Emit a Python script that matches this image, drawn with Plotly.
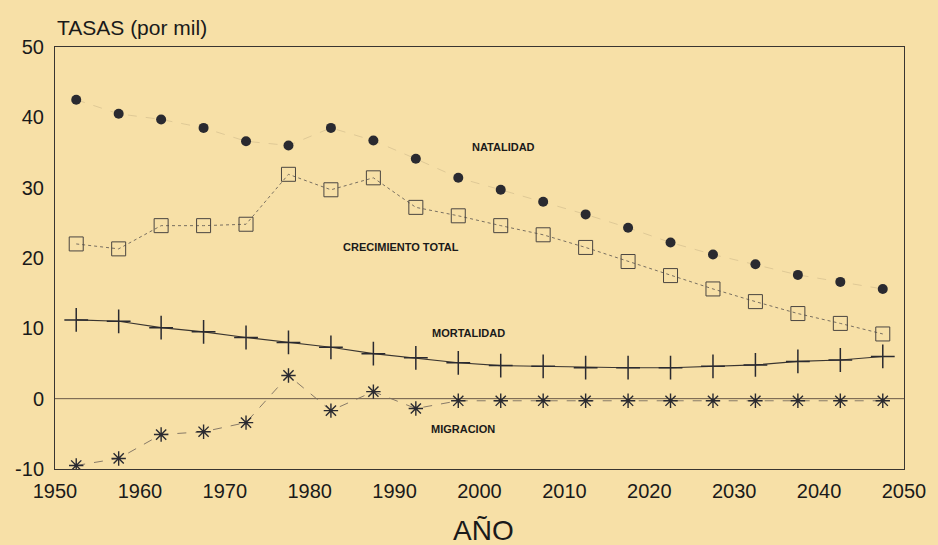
import plotly.graph_objects as go

years = [1952.5, 1957.5, 1962.5, 1967.5, 1972.5, 1977.5, 1982.5, 1987.5, 1992.5, 1997.5,
         2002.5, 2007.5, 2012.5, 2017.5, 2022.5, 2027.5, 2032.5, 2037.5, 2042.5, 2047.5]

natalidad = [42.5, 40.5, 39.7, 38.5, 36.6, 36.0, 38.5, 36.7, 34.1, 31.4,
             29.7, 28.0, 26.2, 24.3, 22.2, 20.5, 19.1, 17.6, 16.6, 15.6]
crecimiento = [22.0, 21.3, 24.6, 24.6, 24.8, 31.9, 29.7, 31.4, 27.2, 26.0,
               24.6, 23.3, 21.5, 19.5, 17.5, 15.6, 13.8, 12.1, 10.7, 9.2]
mortalidad = [11.2, 11.0, 10.1, 9.5, 8.7, 8.0, 7.3, 6.4, 5.8, 5.1,
              4.7, 4.6, 4.4, 4.4, 4.4, 4.6, 4.8, 5.3, 5.5, 6.0]
migracion = [-9.5, -8.5, -5.1, -4.7, -3.4, 3.3, -1.7, 1.0, -1.4, -0.3,
             -0.3, -0.3, -0.3, -0.3, -0.3, -0.3, -0.3, -0.3, -0.3, -0.3]

x_ticks = [1950, 1960, 1970, 1980, 1990, 2000, 2010, 2020, 2030, 2040, 2050]
y_ticks = [-10, 0, 10, 20, 30, 40, 50]
y_tick_text = ["-10", "0", "10", "20", "30", "40", "50"]

series_labels = ["NATALIDAD", "CRECIMIENTO TOTAL", "MORTALIDAD", "MIGRACION"]
label_x = [2002.8, 1990.7, 1998.7, 1998.1]
label_y = [35.8, 21.6, 9.3, -4.3]

BG = "#f7e0a7"
INK = "#2a2a30"

fig = go.Figure()

# zero line
fig.add_trace(go.Scatter(x=[1950, 2050], y=[0, 0], mode="lines",
                         line=dict(color="#6a5a48", width=1), hoverinfo="skip",
                         showlegend=False))

fig.add_trace(go.Scatter(x=years, y=natalidad, mode="lines+markers", name="Natalidad",
                         line=dict(color="#d8c392", width=0.8, dash="dash"),
                         marker=dict(symbol="circle", size=10, color=INK)))
fig.add_trace(go.Scatter(x=years, y=crecimiento, mode="lines+markers", name="Crecimiento total",
                         line=dict(color="#6a6258", width=0.9, dash="dot"),
                         marker=dict(symbol="square-open", size=14, color="#4a4540",
                                     line=dict(width=1))))
fig.add_trace(go.Scatter(x=years, y=mortalidad, mode="lines+markers", name="Mortalidad",
                         line=dict(color="#3a3530", width=1.1),
                         marker=dict(symbol="cross-thin-open", size=17, color=INK,
                                     line=dict(width=1.5, color=INK))))
fig.add_trace(go.Scatter(x=years, y=migracion, mode="lines+markers", name="Migracion",
                         line=dict(color="#7a6e60", width=0.9, dash="dash"),
                         marker=dict(symbol="asterisk-open", size=12, color=INK,
                                     line=dict(width=1.4, color=INK))))

for t, xx, yy in zip(series_labels, label_x, label_y):
    fig.add_annotation(x=xx, y=yy, text="<b>" + t + "</b>", showarrow=False,
                       font=dict(family="Liberation Sans, Arial", size=11, color="#1a1a1a"))

fig.add_annotation(xref="paper", yref="paper", x=0.0, y=1.047, xanchor="left",
                   yanchor="middle", text="TASAS (por mil)", showarrow=False,
                   font=dict(family="Liberation Sans, Arial", size=21, color="#1a1a1a"))
fig.add_annotation(xref="paper", yref="paper", x=0.505, y=-0.145, xanchor="center",
                   yanchor="middle", text="AÑO", showarrow=False,
                   font=dict(family="Liberation Sans, Arial", size=28, color="#1a1a1a"))

fig.update_layout(
    width=938, height=545,
    margin=dict(l=55, r=27, t=47, b=76),
    paper_bgcolor=BG, plot_bgcolor=BG,
    showlegend=False,
    font=dict(family="Liberation Sans, Arial", color="#1a1a1a"),
)
fig.update_xaxes(range=[1950, 2050], tickvals=x_ticks, showgrid=False, zeroline=False,
                 showline=True, linecolor="#3a3530", linewidth=1.2, mirror=True,
                 ticks="", tickfont=dict(size=20), ticklabelstandoff=4)
fig.update_yaxes(range=[-10, 50], tickvals=y_ticks, ticktext=y_tick_text, showgrid=False,
                 zeroline=False, showline=True, linecolor="#3a3530", linewidth=1, mirror=True,
                 ticks="", tickfont=dict(size=20), ticklabelstandoff=6)

fig.write_html("out.html", config={"displayModeBar": False},
               post_script="document.body.style.margin='0';document.body.style.background='" + BG + "';")
